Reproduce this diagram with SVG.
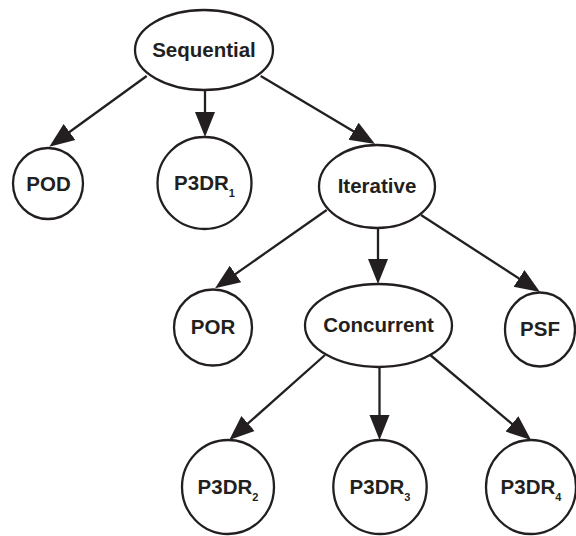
<svg xmlns="http://www.w3.org/2000/svg" width="576" height="536" viewBox="0 0 576 536">
  <style>
    .node { fill: #ffffff; stroke: #231f20; stroke-width: 2.3; }
    .label { font-family: "Liberation Sans", Arial, Helvetica, sans-serif; font-weight: bold; font-size: 20.5px; fill: #231f20; text-anchor: middle; }
    .sub { font-size: 11px; }
    .edge { stroke: #231f20; stroke-width: 2.3; fill: none; marker-end: url(#head); }
  </style>
  <defs>
    <marker id="head" markerUnits="userSpaceOnUse" markerWidth="28" markerHeight="24" viewBox="0 -12 28 24" refX="15" refY="0" orient="auto">
      <path d="M0,-10 L25,0 L0,10 Z" fill="#231f20"/>
    </marker>
  </defs>
  <rect width="576" height="536" fill="#ffffff"/>

  <!-- connectors: each line stops 10px short of its tip; the marker supplies the rest -->
  <g id="connectors">
    <line class="edge" x1="146.7" y1="76" x2="57.4" y2="140.8"/>
    <line class="edge" x1="205" y1="90" x2="205" y2="127"/>
    <line class="edge" x1="260.7" y1="76" x2="366.4" y2="138.9"/>
    <line class="edge" x1="326.7" y1="210" x2="223.2" y2="282.6"/>
    <line class="edge" x1="378" y1="228" x2="378" y2="274"/>
    <line class="edge" x1="421" y1="215" x2="531.6" y2="286.6"/>
    <line class="edge" x1="325" y1="355" x2="236.8" y2="433.4"/>
    <line class="edge" x1="379.5" y1="367" x2="379.5" y2="430"/>
    <line class="edge" x1="430.3" y1="355" x2="523.4" y2="433.6"/>
  </g>

  <g id="sequential">
    <ellipse class="node" cx="204" cy="50" rx="69" ry="40"/>
    <text class="label" x="204" y="57">Sequential</text>
  </g>
  <g id="pod">
    <ellipse class="node" cx="48" cy="183.5" rx="35" ry="35.5"/>
    <text class="label" x="48.5" y="190.5">POD</text>
  </g>
  <g id="p3dr1">
    <ellipse class="node" cx="204.5" cy="183" rx="47" ry="46"/>
    <text class="label" x="204.5" y="190">P3DR<tspan class="sub" dy="7">1</tspan></text>
  </g>
  <g id="iterative">
    <ellipse class="node" cx="377" cy="186.5" rx="58" ry="41.5"/>
    <text class="label" x="377" y="193">Iterative</text>
  </g>
  <g id="por">
    <ellipse class="node" cx="213" cy="327.5" rx="39" ry="38"/>
    <text class="label" x="213" y="334">POR</text>
  </g>
  <g id="concurrent">
    <ellipse class="node" cx="378.5" cy="325.5" rx="73.5" ry="41.5"/>
    <text class="label" x="378.5" y="332">Concurrent</text>
  </g>
  <g id="psf">
    <ellipse class="node" cx="540" cy="329.5" rx="35" ry="37"/>
    <text class="label" x="540" y="336">PSF</text>
  </g>
  <g id="p3dr2">
    <ellipse class="node" cx="228" cy="487" rx="46" ry="47"/>
    <text class="label" x="228" y="493.5">P3DR<tspan class="sub" dy="7">2</tspan></text>
  </g>
  <g id="p3dr3">
    <ellipse class="node" cx="380" cy="487" rx="46.7" ry="47"/>
    <text class="label" x="380" y="493.5">P3DR<tspan class="sub" dy="7">3</tspan></text>
  </g>
  <g id="p3dr4">
    <ellipse class="node" cx="531" cy="487" rx="45" ry="47"/>
    <text class="label" x="531" y="493.5">P3DR<tspan class="sub" dy="7">4</tspan></text>
  </g>
</svg>
